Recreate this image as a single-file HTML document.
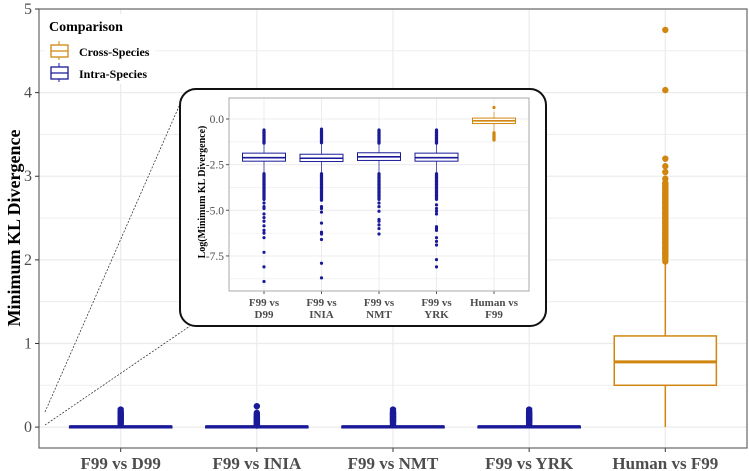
<!DOCTYPE html>
<html><head><meta charset="utf-8">
<style>
html,body{margin:0;padding:0;background:#fff;}
svg{display:block;font-family:"Liberation Serif",serif;}
</style></head>
<body>
<svg id="chart" width="749" height="471" viewBox="0 0 749 471"></svg>
<script>
// ---- main chart data ----
const categories = ["F99 vs D99","F99 vs INIA","F99 vs NMT","F99 vs YRK","Human vs F99"];
const groups = ["intra","intra","intra","intra","cross"];
const q1 = [0.0,0.0,0.0,0.0,0.50];
const medians = [0.005,0.005,0.005,0.005,0.78];
const q3 = [0.01,0.01,0.01,0.01,1.09];
const whiskLo = [0,0,0,0,0];
const whiskHi = [0.02,0.02,0.02,0.02,1.95];
const outliersMain = [
 [0.03,0.05,0.07,0.09,0.11,0.13,0.15,0.17,0.19,0.21],
 [0.03,0.05,0.07,0.09,0.11,0.13,0.15,0.17,0.25],
 [0.03,0.05,0.07,0.09,0.11,0.13,0.15,0.17,0.19,0.21],
 [0.03,0.05,0.07,0.09,0.11,0.13,0.15,0.17,0.19,0.21],
 [4.75,4.03,3.21,3.12,3.05,2.97,2.92,2.86,2.8,2.74,2.68,2.62,2.56,2.5,2.44,2.38,2.32,2.26,2.2,2.14,2.08,2.02,1.98]
];
const yTicks = [0,1,2,3,4,5];
// ---- inset data (log scale) ----
const insetLabels = [["F99 vs","D99"],["F99 vs","INIA"],["F99 vs","NMT"],["F99 vs","YRK"],["Human vs","F99"]];
const iq1 = [-2.31,-2.33,-2.27,-2.31,-0.25];
const imed = [-2.12,-2.15,-2.07,-2.12,-0.1];
const iq3 = [-1.87,-1.93,-1.85,-1.87,0.05];
const iwLo = [-2.97,-2.97,-2.97,-2.97,-0.7];
const iwHi = [-1.35,-1.35,-1.35,-1.35,0.4];
const iOut = [
 [-0.6,-0.75,-0.9,-1.05,-1.2,-1.32,-3.0,-3.2,-3.4,-3.6,-3.8,-4.0,-4.2,-4.4,-4.6,-4.8,-4.9,-5.2,-5.4,-5.6,-5.85,-6.1,-6.25,-6.5,-7.3,-8.1,-8.9],
 [-0.55,-0.7,-0.85,-1.0,-1.15,-1.3,-3.0,-3.2,-3.4,-3.6,-3.8,-4.0,-4.2,-4.45,-4.8,-4.9,-5.1,-5.7,-6.2,-6.3,-6.6,-7.9,-8.7],
 [-0.6,-0.75,-0.9,-1.05,-1.2,-1.32,-3.0,-3.2,-3.4,-3.6,-3.8,-4.0,-4.2,-4.4,-4.6,-4.8,-5.05,-5.5,-5.6,-5.8,-6.0,-6.3],
 [-0.6,-0.75,-0.9,-1.05,-1.2,-1.32,-3.0,-3.2,-3.4,-3.6,-3.8,-4.0,-4.2,-4.4,-4.7,-4.9,-5.05,-5.2,-5.9,-6.0,-6.1,-6.5,-6.7,-6.9,-7.7,-8.1],
 [0.63,-0.75,-0.85,-0.95,-1.05,-1.15]
];
const iTicks = [0,-2.5,-5,-7.5];
const iTickLabels = ["0.0","-2.5","-5.0","-7.5"];

const NS="http://www.w3.org/2000/svg";
const svg=document.getElementById('chart');
function mk(tag,attrs,parent,text){const e=document.createElementNS(NS,tag);for(const k in attrs)e.setAttribute(k,attrs[k]);if(text!==undefined)e.textContent=text;(parent||svg).appendChild(e);return e;}
const COL={intra:"#1a1a98",cross:"#d0860f"};

// main axes
const P={l:39,r:747,t:9,b:448};
const yMin=-0.25,yMax=5.0;
function yS(v){return P.b-(v-yMin)/(yMax-yMin)*(P.b-P.t);}
const step=(P.r-P.l)/5.2;
function xS(i){return P.l+(i+0.6)*step;}

// grid
for(let v=0;v<=5;v+=0.5){const g=mk('line',{x1:P.l,x2:P.r,y1:yS(v),y2:yS(v),stroke:'#ebebeb','stroke-width':v%1===0?1.2:0.8});

}
categories.forEach((c,i)=>{const g=mk('line',{x1:xS(i),x2:xS(i),y1:P.t,y2:P.b,stroke:'#ebebeb','stroke-width':1.2});

});

// boxes main
categories.forEach((c,i)=>{
 const col=COL[groups[i]];const cx=xS(i);const hw=step*0.375;
 const gr=mk('g',{});
 
 
 mk('line',{x1:cx,x2:cx,y1:yS(whiskLo[i]),y2:yS(q1[i]),stroke:col,'stroke-width':1.5},gr);
 mk('line',{x1:cx,x2:cx,y1:yS(q3[i]),y2:yS(whiskHi[i]),stroke:col,'stroke-width':1.5},gr);
 const h=Math.max(yS(q1[i])-yS(q3[i]),1.5);
 mk('rect',{x:cx-hw,y:yS(q3[i]),width:2*hw,height:h,fill:groups[i]==='cross'?'#fff':col,stroke:col,'stroke-width':1.5},gr);
 mk('line',{x1:cx-hw,x2:cx+hw,y1:yS(medians[i]),y2:yS(medians[i]),stroke:col,'stroke-width':groups[i]==='cross'?3:3},gr);
 outliersMain[i].forEach(v=>{const p=mk('circle',{cx:cx,cy:yS(v),r:3.2,fill:col},gr);
 
 });
 if(groups[i]==='cross'){mk('rect',{x:cx-3.2,y:yS(2.95),width:6.4,height:yS(1.98)-yS(2.95),fill:col,rx:3},gr);}
 else{mk('rect',{x:cx-3.2,y:yS(outliersMain[i][outliersMain[i].length-1]===0.25?0.17:0.21),width:6.4,height:yS(0.02)-yS(0.21),fill:col,rx:3},gr);}
 const t=mk('text',{x:cx,y:469,'text-anchor':'middle','font-size':17,'font-weight':'bold',fill:'#4d4d4d'},svg,c);
 
 
 mk('line',{x1:cx,x2:cx,y1:P.b,y2:P.b+4,stroke:'#333'});
});
// panel border
const pb=mk('rect',{x:P.l,y:P.t,width:P.r-P.l,height:P.b-P.t,fill:'none',stroke:'#666','stroke-width':1.2});


yTicks.forEach(v=>{mk('line',{x1:P.l-4,x2:P.l,y1:yS(v),y2:yS(v),stroke:'#333'});
 const t=mk('text',{x:P.l-7,y:yS(v)+5,'text-anchor':'end','font-size':16,fill:'#4d4d4d'},svg,String(v));
 
 });
const yt=mk('text',{x:0,y:0,transform:'translate(20,228) rotate(-90)','text-anchor':'middle','font-size':18,'font-weight':'bold',fill:'#000'},svg,'Minimum KL Divergence');



// legend
const lg=mk('g',{});


mk('rect',{x:45,y:14,width:110,height:70,fill:'#fff'},lg);
mk('text',{x:49,y:31,'font-size':14,'font-weight':'bold'},lg,'Comparison');
[["Cross-Species",COL.cross,51],["Intra-Species",COL.intra,73]].forEach(([lab,col,y])=>{
 const e=mk('g',{},lg);
 
 
 mk('line',{x1:59,x2:59,y1:y-10,y2:y+9,stroke:col,'stroke-width':1},e);
 mk('rect',{x:51,y:y-6,width:17,height:12,fill:'#fff',stroke:col,'stroke-width':1.3},e);
 mk('line',{x1:51,x2:68,y1:y,y2:y,stroke:col,'stroke-width':1.3},e);
 mk('text',{x:79,y:y+5,'font-size':12,'font-weight':'bold'},e,lab);
});

// zoom connector lines
mk('line',{x1:45,y1:412,x2:180,y2:104,stroke:'#222','stroke-width':0.7,'stroke-dasharray':'2,1.5'});
mk('line',{x1:45,y1:425,x2:190,y2:326,stroke:'#222','stroke-width':0.7,'stroke-dasharray':'2,1.5'});

// inset
const ig=mk('g',{});


mk('rect',{x:180,y:89,width:366,height:237,rx:16,fill:'#fff',stroke:'#111','stroke-width':2},ig);
const I={l:229,r:529,t:98,b:291};
const iyMin=-9.42,iyMax=1.15;
function iy(v){return I.b-(v-iyMin)/(iyMax-iyMin)*(I.b-I.t);}
const istep=57.5;
function ix(i){return 264+i*istep;}
[-8.75,-6.25,-3.75,-1.25,1.25].concat(iTicks).forEach(v=>{if(v<iyMin||v>iyMax)return;mk('line',{x1:I.l,x2:I.r,y1:iy(v),y2:iy(v),stroke:'#ececec','stroke-width':iTicks.includes(v)?1:0.6},ig);});
insetLabels.forEach((l,i)=>mk('line',{x1:ix(i),x2:ix(i),y1:I.t,y2:I.b,stroke:'#ececec'},ig));
insetLabels.forEach((l,i)=>{
 const col=i===4?COL.cross:COL.intra;const cx=ix(i);const hw=21.5;
 const b=mk('g',{},ig);
 
 
 mk('line',{x1:cx,x2:cx,y1:iy(iwLo[i]),y2:iy(iwHi[i]),stroke:col,'stroke-width':1,opacity:0.7},b);
 mk('rect',{x:cx-hw,y:iy(iq3[i]),width:2*hw,height:iy(iq1[i])-iy(iq3[i]),fill:'#fff',stroke:col,'stroke-width':1},b);
 mk('line',{x1:cx-hw,x2:cx+hw,y1:iy(imed[i]),y2:iy(imed[i]),stroke:col,'stroke-width':1.6},b);
 iOut[i].forEach(v=>{const p=mk('circle',{cx:cx,cy:iy(v),r:1.6,fill:col},b);
 
 });
 if(i<4){mk('rect',{x:cx-1.6,y:iy(-0.6),width:3.2,height:iy(-1.32)-iy(-0.6),fill:col},b);
  mk('rect',{x:cx-1.6,y:iy(-3.0),width:3.2,height:iy(iOut[i][13])-iy(-3.0),fill:col},b);}
 else{mk('rect',{x:cx-1.6,y:iy(-0.75),width:3.2,height:iy(-1.15)-iy(-0.75),fill:col},b);}
 mk('line',{x1:cx,x2:cx,y1:I.b,y2:I.b+3,stroke:'#555'},ig);
 const t=mk('text',{x:cx,y:306,'text-anchor':'middle','font-size':11,'font-weight':'bold',fill:'#4d4d4d'},ig);
 
 
 mk('tspan',{x:cx,dy:0},t,l[0]);mk('tspan',{x:cx,dy:12},t,l[1]);
});
mk('rect',{x:I.l,y:I.t,width:I.r-I.l,height:I.b-I.t,fill:'none',stroke:'#aaa','stroke-width':1},ig);
iTicks.forEach((v,k)=>{mk('line',{x1:I.l-3,x2:I.l,y1:iy(v),y2:iy(v),stroke:'#555'},ig);
 const t=mk('text',{x:I.l-5,y:iy(v)+4,'text-anchor':'end','font-size':11.5,fill:'#4d4d4d'},ig,iTickLabels[k]);
 
 });
const it=mk('text',{x:0,y:0,transform:'translate(205,192) rotate(-90)','text-anchor':'middle','font-size':10,'font-weight':'bold'},ig,'Log(Minimum KL Divergence)');


</script>
</body></html>
